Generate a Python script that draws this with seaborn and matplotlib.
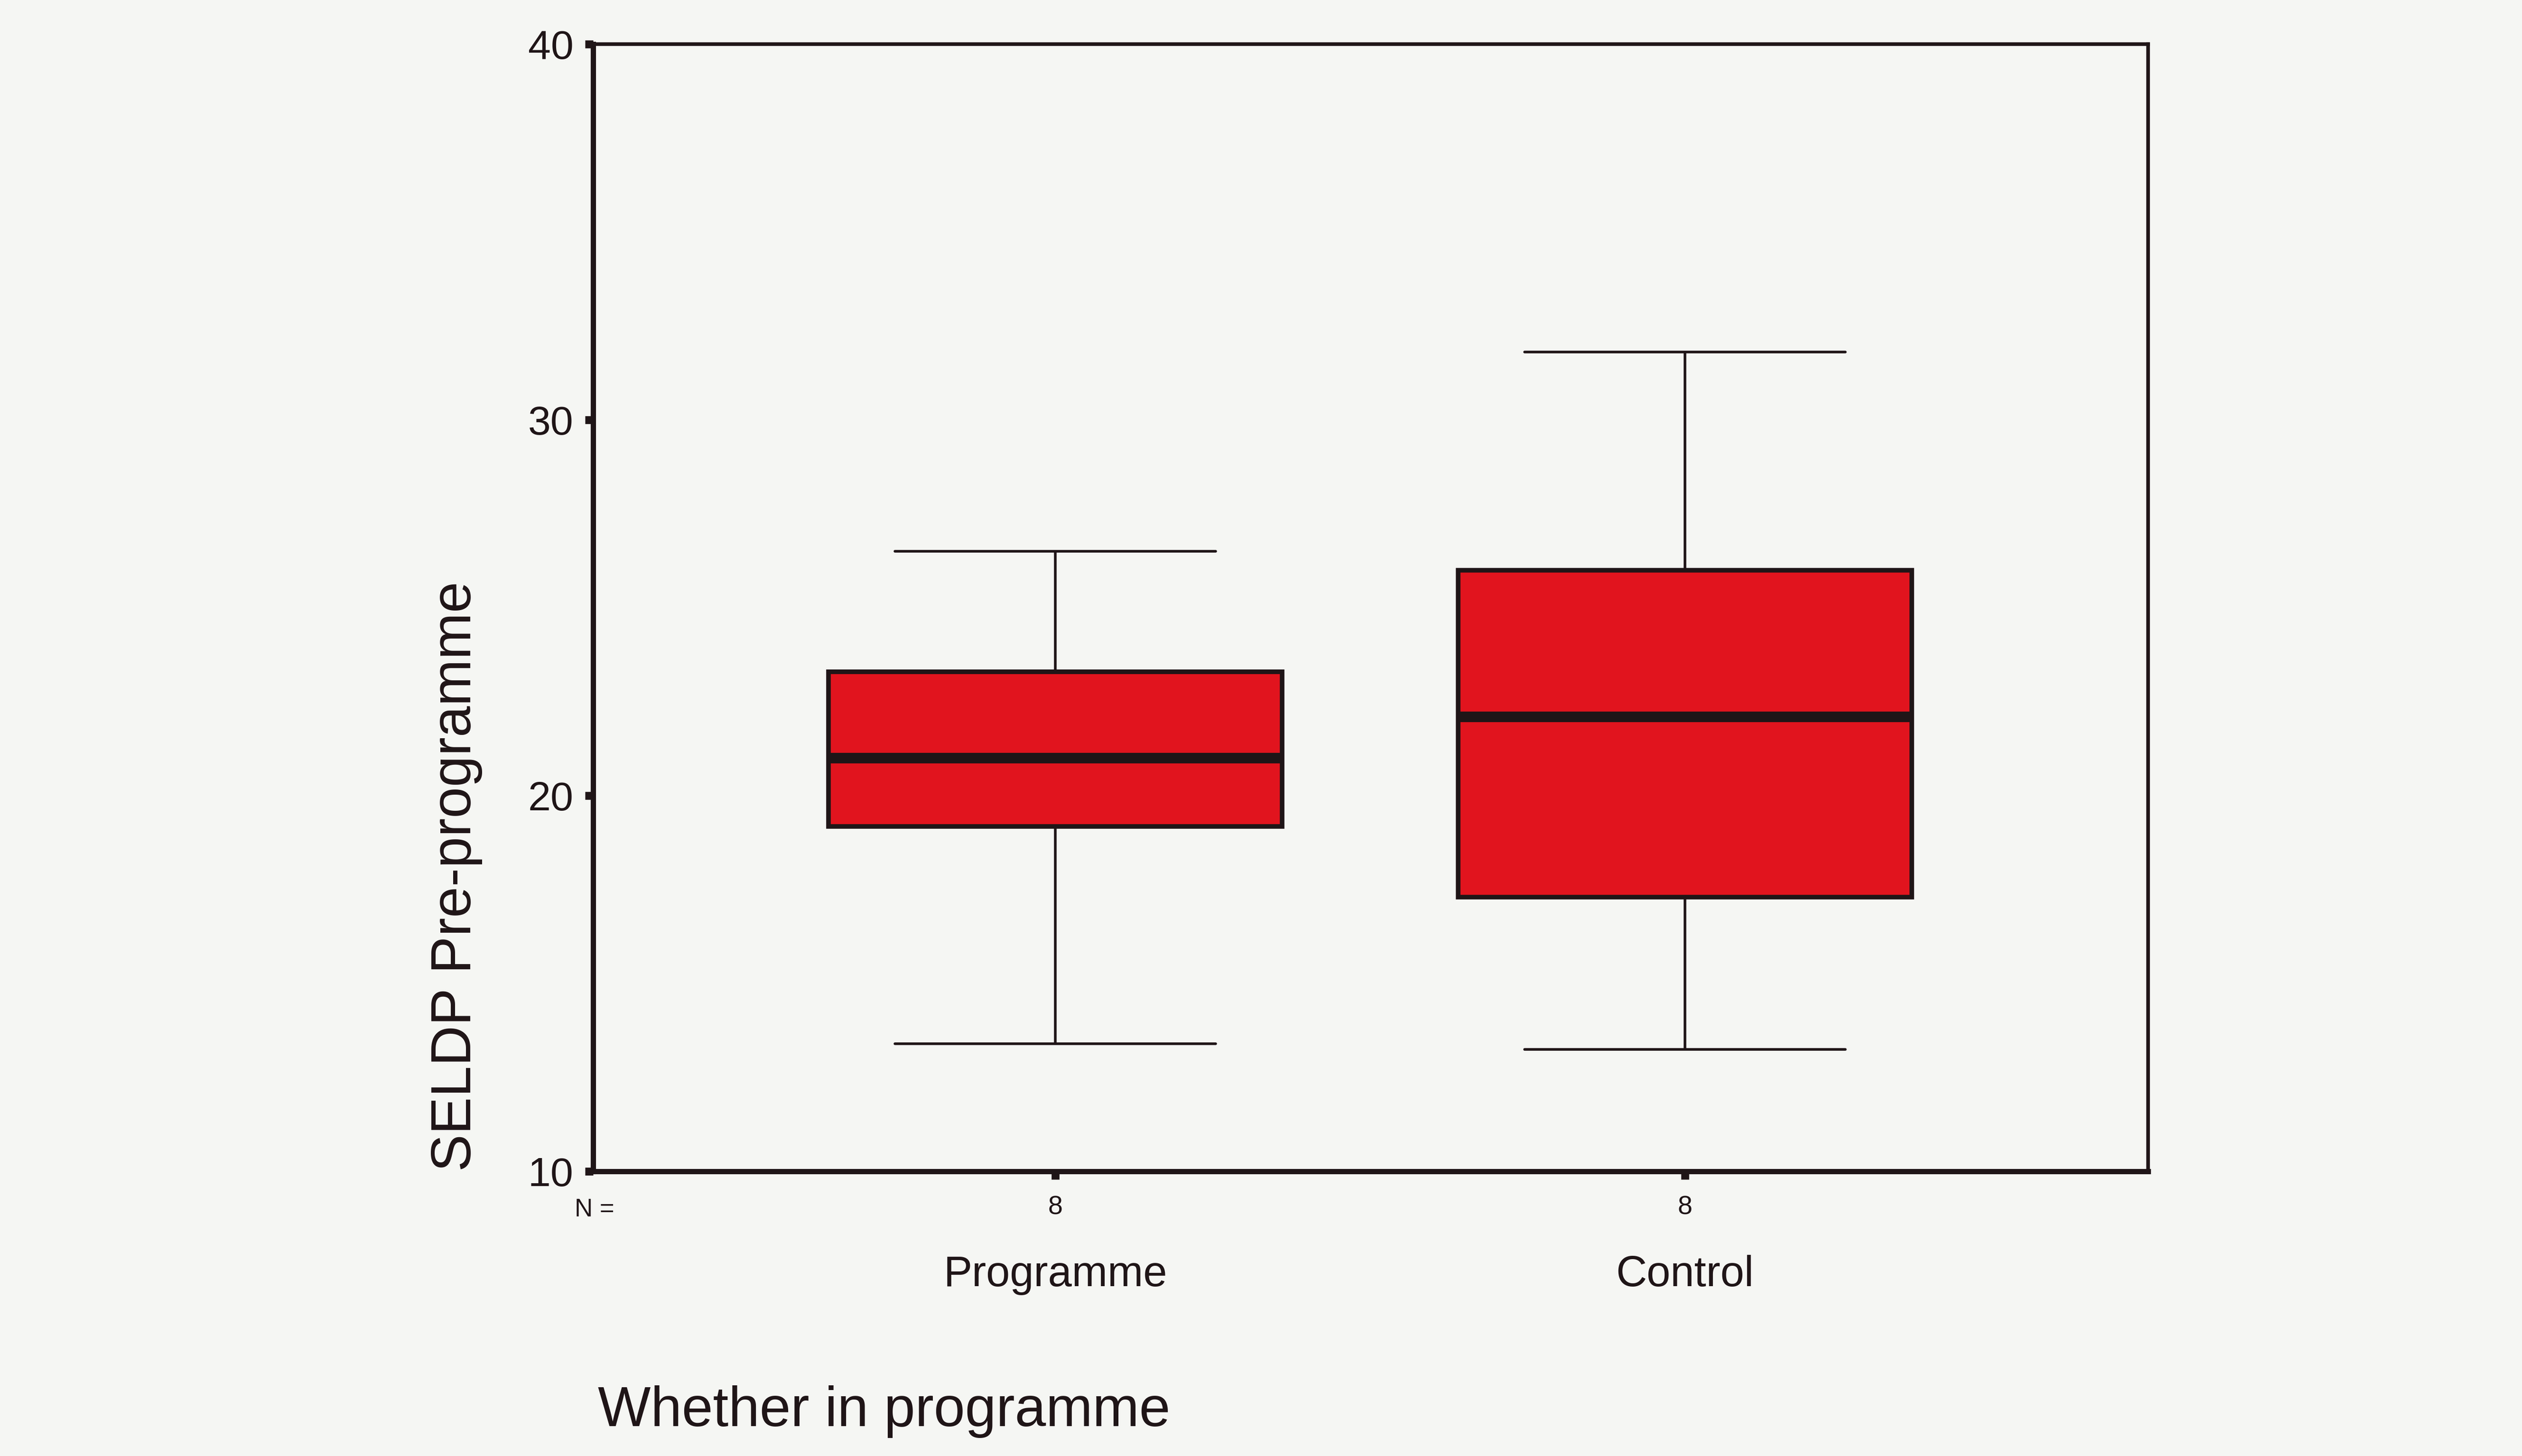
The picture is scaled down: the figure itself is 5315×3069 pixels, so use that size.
import matplotlib
matplotlib.use("Agg")
import matplotlib.pyplot as plt
import seaborn as sns
import pandas as pd

# SELDP pre-programme scores, 8 children per group
groups = ["Programme", "Control"]
programme_scores = [13.4, 18.5, 19.4, 20.5, 21.5, 23.0, 24.2, 26.5]
control_scores = [13.25, 17.0, 17.4, 21.5, 22.7, 25.8, 26.6, 31.8]
y_ticks = [10, 20, 30, 40]

df = pd.DataFrame({
    "group": ["Programme"] * len(programme_scores) + ["Control"] * len(control_scores),
    "score": programme_scores + control_scores,
})
counts = df.groupby("group")["score"].count()

ink = "#1f1517"
paper = "#f5f6f3"
box_red = "#e1141e"

sns.set_style("white")
plt.rcParams["font.family"] = ["Liberation Sans", "DejaVu Sans"]

fig = plt.figure(figsize=(53.15, 30.69), dpi=100, facecolor=paper)
ax = fig.add_axes([0.2352, 0.1955, 0.6165, 0.7742])
ax.set_facecolor(paper)

sns.boxplot(
    data=df, x="group", y="score", order=groups, ax=ax,
    width=0.72, color=box_red, linecolor=ink, saturation=1,
    showfliers=False, capwidths=0.51,
    boxprops={"linewidth": 7},
    medianprops={"linewidth": 16, "solid_capstyle": "butt"},
    whiskerprops={"linewidth": 4},
    capprops={"linewidth": 4},
)

ax.set_xlim(-0.734, 1.7355)
ax.set_ylim(10, 40)
ax.set_yticks(y_ticks)

for side in ["left", "bottom"]:
    ax.spines[side].set_linewidth(8)
for side in ["top", "right"]:
    ax.spines[side].set_linewidth(5.5)
for sp in ax.spines.values():
    sp.set_color(ink)
    sp.set_visible(True)

ax.tick_params(axis="both", direction="out", length=12, width=12, color=ink,
               labelcolor=ink, bottom=True, left=True, top=False, right=False)
ax.tick_params(axis="y", labelsize=62, pad=18)
ax.tick_params(axis="x", labelsize=40, pad=24)
ax.set_xticks(range(len(groups)))
ax.set_xticklabels([str(counts[g]) for g in groups])

# "N =" marker and category names under the counts
ax.text(-0.012, -0.0236, "N =", transform=ax.transAxes, ha="left", va="top",
        fontsize=38, color=ink)
for i, g in enumerate(groups):
    ax.text(i, -0.074, g, transform=ax.get_xaxis_transform(), ha="center",
            va="top", fontsize=65, color=ink)

ax.set_ylabel("SELDP Pre-programme", fontsize=85, color=ink, loc="bottom")
ax.yaxis.set_label_coords(-0.071, 0.0)
ax.set_xlabel("Whether in programme", fontsize=85, color=ink, loc="left")
ax.xaxis.set_label_coords(0.003, -0.19)

fig.savefig("out.png", dpi=100, facecolor=paper)
